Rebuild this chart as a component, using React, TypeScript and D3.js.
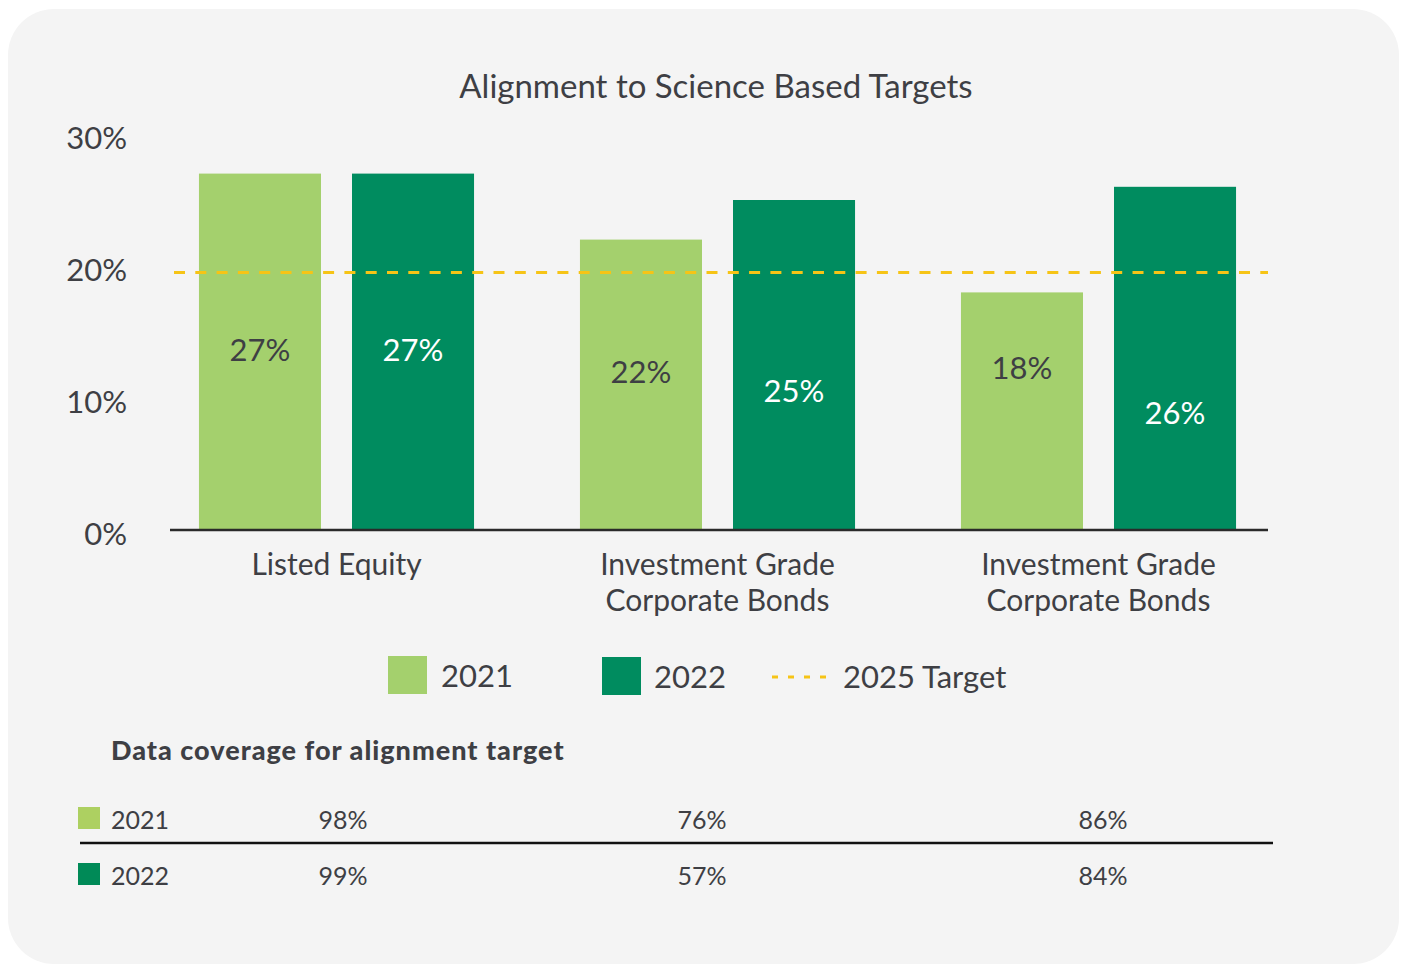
import React from 'react';
import * as d3 from 'd3';

// chart data
const categories = ['equity', 'igcb1', 'igcb2'];
const categoryLabels = [['Listed Equity'], ['Investment Grade', 'Corporate Bonds'], ['Investment Grade', 'Corporate Bonds']];
const years = ['2021', '2022'];
const values2021 = [27, 22, 18];
const values2022 = [27, 25, 26];
const target = 19.5;
const yTicks = [0, 10, 20, 30];
const coverage2021 = ['98%', '76%', '86%'];
const coverage2022 = ['99%', '57%', '84%'];

const FONT = 'Lato, "Open Sans", sans-serif';
const TEXT = '#3e3f44';
const LIGHT = '#a4d06d';
const DARK = '#008c5f';
const YELLOW = '#f6c416';

// where the value label sits inside each bar (in % units)
const labelLevel2021 = [13.6, 12.0, 12.3];
const labelLevel2022 = [13.6, 10.5, 8.9];

const App = () => {
    const y = d3.scaleLinear().domain([0, 30]).range([530, 134]);
    const x0 = d3.scaleBand().domain(categories).range([146, 1289]).paddingInner(0.278).paddingOuter(0.139);
    const x1 = d3.scaleBand().domain(years).range([0, x0.bandwidth()]).paddingInner(0.2026);
    const color = d3.scaleOrdinal<string, string>().domain(years).range([LIGHT, DARK]);
    const tableX = d3.scaleOrdinal<string, number>().domain(categories).range([343, 702, 1103]);

    const series = [
        {year: '2021', values: values2021, labels: labelLevel2021, text: TEXT},
        {year: '2022', values: values2022, labels: labelLevel2022, text: '#ffffff'},
    ];
    const rows = [
        {year: '2021', cells: coverage2021, y: 819},
        {year: '2022', cells: coverage2022, y: 875},
    ];

    return (
        <svg width={1403} height={965} style={{position: 'absolute', left: 0, top: 0}} fontFamily={FONT}>
            <rect x={0} y={0} width={1403} height={965} fill="#ffffff" />
            <rect x={8} y={9} width={1391} height={955} rx={46} fill="#f4f4f4" />

            <text x={716} y={85} textAnchor="middle" dominantBaseline="central" fontSize={33} fill={TEXT}>
                Alignment to Science Based Targets
            </text>

            {yTicks.map(t => (
                <text key={t} x={127} y={y(t) + 3} textAnchor="end" dominantBaseline="central" fontSize={31} fill={TEXT}>
                    {t + '%'}
                </text>
            ))}

            {series.map(s => (
                <g key={s.year}>
                    {categories.map((c, i) => (
                        <rect key={c} x={x0(c)! + x1(s.year)!} y={y(s.values[i])} width={x1.bandwidth()}
                              height={y(0) - y(s.values[i])} fill={color(s.year)} />
                    ))}
                    {categories.map((c, i) => (
                        <text key={c} x={x0(c)! + x1(s.year)! + x1.bandwidth() / 2} y={y(s.labels[i]) - 1}
                              textAnchor="middle" dominantBaseline="central" fontSize={31} fill={s.text}>
                            {s.values[i] + '%'}
                        </text>
                    ))}
                </g>
            ))}

            <line x1={174} x2={1268} y1={y(target)} y2={y(target)} stroke={YELLOW} strokeWidth={3} strokeDasharray="11 10.3" />
            <line x1={170} x2={1268} y1={y(0)} y2={y(0)} stroke="#2a2a2a" strokeWidth={2.5} />

            {categories.map((c, i) => (
                <text key={c} x={x0(c)! + x0.bandwidth() / 2} y={563} textAnchor="middle" dominantBaseline="central" fontSize={30} fill={TEXT}>
                    {categoryLabels[i].map((l, j) => (
                        <tspan key={j} x={x0(c)! + x0.bandwidth() / 2} dy={j === 0 ? 0 : 36}>{l}</tspan>
                    ))}
                </text>
            ))}

            {/* legend */}
            <rect x={388} y={656} width={39} height={38} fill={LIGHT} />
            <text x={441} y={675} dominantBaseline="central" fontSize={31} fill={TEXT}>2021</text>
            <rect x={602} y={657} width={39} height={38} fill={DARK} />
            <text x={654} y={676} dominantBaseline="central" fontSize={31} fill={TEXT}>2022</text>
            <line x1={772} x2={827} y1={677} y2={677} stroke={YELLOW} strokeWidth={3} strokeDasharray="6 10" />
            <text x={843} y={676} dominantBaseline="central" fontSize={31} fill={TEXT}>2025 Target</text>

            {/* coverage table */}
            <text x={111} y={749} dominantBaseline="central" fontSize={27} fontWeight={900} letterSpacing={1} fill={TEXT}>
                Data coverage for alignment target
            </text>
            {rows.map(r => (
                <g key={r.year}>
                    <rect x={78} y={r.y - 12} width={22} height={22} fill={r.year === '2021' ? '#add061' : '#008a57'} />
                    <text x={111} y={r.y} dominantBaseline="central" fontSize={25} fill={TEXT}>{r.year}</text>
                    {categories.map((c, i) => (
                        <text key={c} x={tableX(c)} y={r.y} textAnchor="middle" dominantBaseline="central" fontSize={25} fill={TEXT}>
                            {r.cells[i]}
                        </text>
                    ))}
                </g>
            ))}
            <line x1={80} x2={1273} y1={843} y2={843} stroke="#111111" strokeWidth={2.5} />
        </svg>
    );
};

export default App;
